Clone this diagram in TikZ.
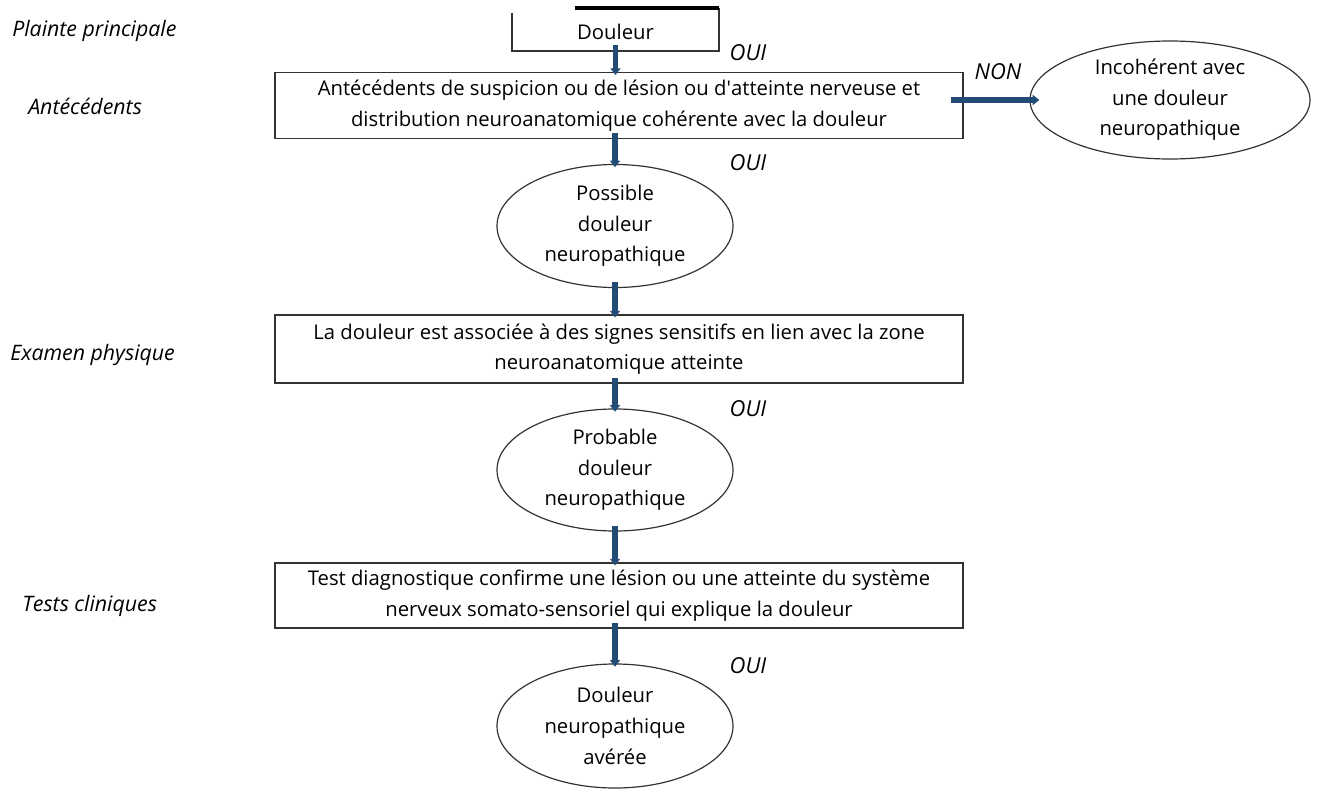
\documentclass[tikz,border=0pt]{standalone}
\usepackage{fontspec}
\setmainfont{Open Sans}
\usetikzlibrary{shapes.geometric,arrows.meta}
\definecolor{bleufleche}{RGB}{35,76,116}
\def\px{0.75pt}
\tikzset{
  texte/.style={font=\fontsize{15.2}{23}\selectfont, align=center, inner sep=0pt},
  boite/.style={texte, draw=black!80, line width=1.3pt, minimum width={688*\px}, minimum height={66*\px}},
  bulle/.style={texte, ellipse, draw=black!80, line width=0.9pt, minimum width={236*\px}, minimum height={123*\px}},
  etape/.style={font=\fontsize{16}{18}\selectfont\itshape, anchor=west, inner sep=0pt},
  reponse/.style={font=\fontsize{16.5}{18}\selectfont\itshape, inner sep=0pt},
  fleche/.style={draw=bleufleche, line width=4.2pt, -{Triangle[length=5pt,width=7.5pt]},
    shorten <=-4.5pt, shorten >=-2.5pt},
}
\begin{document}
\begin{tikzpicture}[x=0.75pt, y=-0.75pt]
\useasboundingbox (0,0) rectangle (1318,789);

% les etapes a gauche
\node[etape] (plainte) at (12,31) {Plainte principale};
\node[etape] (antec) at (28,106) {Antécédents};
\node[etape] (physique) at (10,355) {Examen physique};
\node[etape] (cliniques) at (22,606) {Tests cliniques};

% la plainte (boite coupee en haut)
\node[texte, minimum width={207*\px}, minimum height={38*\px}] (douleur) at (615.5,32) {Douleur};
\draw[black!80, line width=1.3pt] (douleur.north west) -- (douleur.south west)
  -- (douleur.south east) -- ([yshift=3.75pt]douleur.north east);
\draw[black, line width=3pt] ([xshift={63*\px},yshift=3.75pt]douleur.north west) -- ([yshift=3.75pt]douleur.north east);

% les boites et les bulles
\node[boite] (ante) at (619,105.5) {Antécédents de suspicion ou de lésion ou d\textquotesingle atteinte nerveuse et\\distribution neuroanatomique cohérente avec la douleur};
\node[bulle, minimum width={280*\px}, minimum height={118*\px}] (incoh) at (1170,100) {Incohérent avec\\une douleur\\neuropathique};
\node[bulle] (possible) at (615,226) {Possible\\douleur\\neuropathique};
\node[boite, minimum height={68*\px}] (examen) at (619,349) {La douleur est associée à des signes sensitifs en lien avec la zone\\neuroanatomique atteinte};
\node[bulle, minimum height={122*\px}] (probable) at (615,470) {Probable\\douleur\\neuropathique};
\node[boite, minimum height={65*\px}] (tests) at (619,595.5) {Test diagnostique confirme une lésion ou une atteinte du système\\nerveux somato-sensoriel qui explique la douleur};
\node[bulle, minimum height={124*\px}] (averee) at (615,726) {Douleur\\neuropathique\\avérée};

% les reponses
\node[reponse] (oui1) at (748,53) {OUI};
\node[reponse] (non) at (998,72) {NON};
\node[reponse] (oui2) at (748,163) {OUI};
\node[reponse] (oui3) at (748,409) {OUI};
\node[reponse] (oui4) at (748,666) {OUI};

% les fleches
\draw[fleche] (douleur.south) -- (douleur.south |- ante.north);
\draw[fleche] (possible.north |- ante.south) -- (possible.north);
\draw[fleche] (possible.south) -- (possible.south |- examen.north);
\draw[fleche] (probable.north |- examen.south) -- (probable.north);
\draw[fleche] (probable.south) -- (probable.south |- tests.north);
\draw[fleche] (averee.north |- tests.south) -- (averee.north);
\draw[fleche, shorten <=-9.75pt, shorten >=-7.5pt] (ante.east |- incoh.west) -- (incoh.west);
\end{tikzpicture}
\end{document}
